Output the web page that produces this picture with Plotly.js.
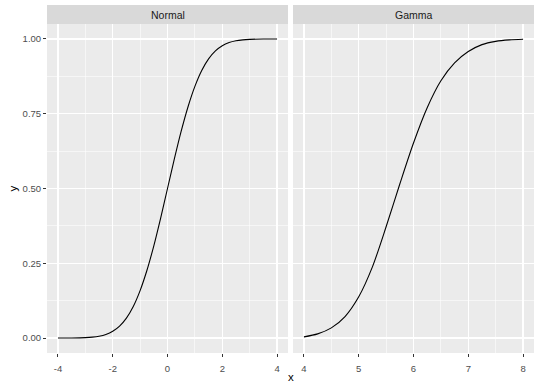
<!DOCTYPE html>
<html>
<head>
<meta charset="utf-8">
<script src="https://cdn.plot.ly/plotly-3.0.1.min.js"></script>
<style>html,body{margin:0;padding:0;background:#fff;}</style>
</head>
<body>
<div id="chart" style="width:540px;height:386px;"></div>
<script>
// Panel names
const panels = ["Normal", "Gamma"];

// Normal panel values
const normalX = [-4, -3.5, -3, -2.75, -2.5, -2.25, -2, -1.75, -1.5, -1.25, -1, -0.75, -0.5, -0.25, 0,
                 0.25, 0.5, 0.75, 1, 1.25, 1.5, 1.75, 2, 2.25, 2.5, 2.75, 3, 3.5, 4];
const normalY = [0.0000, 0.0002, 0.0013, 0.003, 0.0062, 0.0122, 0.0228, 0.0401, 0.0668, 0.1056, 0.1587, 0.2266, 0.3085, 0.4013, 0.5,
                 0.5987, 0.6915, 0.7734, 0.8413, 0.8944, 0.9332, 0.9599, 0.9772, 0.9878, 0.9938, 0.997, 0.9987, 0.9998, 1.0];

// Gamma panel values
const gammaX = [4.0, 4.25, 4.5, 4.75, 5.0, 5.25, 5.5, 5.75, 6.0, 6.25, 6.5, 6.75, 7.0, 7.25, 7.5, 7.75, 8.0];
const gammaY = [0.004, 0.014, 0.034, 0.072, 0.138, 0.238, 0.372, 0.515, 0.652, 0.77, 0.86, 0.92, 0.958, 0.981, 0.992, 0.997, 0.999];

// Tick labels
const yTickVals = [0, 0.25, 0.5, 0.75, 1];
const yTickText = ["0.00", "0.25", "0.50", "0.75", "1.00"];
const x1TickVals = [-4, -2, 0, 2, 4];
const x2TickVals = [4, 5, 6, 7, 8];

const lineStyle = {color: "#000000", width: 1.1, shape: "spline", smoothing: 0.8};

const traces = [
  {x: normalX, y: normalY, type: "scatter", mode: "lines", line: lineStyle, xaxis: "x", yaxis: "y", hoverinfo: "skip"},
  {x: gammaX, y: gammaY, type: "scatter", mode: "lines", line: lineStyle, xaxis: "x2", yaxis: "y2", hoverinfo: "skip"}
];

const tickFont = {family: "Liberation Sans, Arial, sans-serif", size: 9.5, color: "#4D4D4D"};

const xCommon = {
  showgrid: true, gridcolor: "#FFFFFF", gridwidth: 1.1,
  zeroline: false, showline: false,
  ticks: "outside", ticklen: 3, tickwidth: 1, tickcolor: "#333333",
  tickfont: tickFont, ticklabelstandoff: 4
};

const L = 47, R = 6, T = 24, B = 33;
const W = 540, H = 386;
const pw = W - L - R, ph = H - T - B;
const d1 = [0, (288 - L) / pw];
const d2 = [(293 - L) / pw, 1];
const stripTop = 1 + 19 / ph;

const layout = {
  width: W, height: H,
  margin: {l: L, r: R, t: T, b: B, pad: 0},
  paper_bgcolor: "#FFFFFF",
  plot_bgcolor: "#EBEBEB",
  showlegend: false,
  font: {family: "Liberation Sans, Arial, sans-serif"},
  xaxis: Object.assign({}, xCommon, {
    domain: d1, range: [-4.4, 4.4], tickvals: x1TickVals, ticktext: x1TickVals.map(String),
    minor: {tickvals: [-3, -1, 1, 3], showgrid: true, gridcolor: "#FFFFFF", gridwidth: 0.55, ticks: ""},
    anchor: "y"
  }),
  xaxis2: Object.assign({}, xCommon, {
    domain: d2, range: [3.8, 8.2], tickvals: x2TickVals, ticktext: x2TickVals.map(String),
    minor: {tickvals: [4.5, 5.5, 6.5, 7.5], showgrid: true, gridcolor: "#FFFFFF", gridwidth: 0.55, ticks: ""},
    anchor: "y2"
  }),
  yaxis: {
    domain: [0, 1], range: [-0.05, 1.05], tickvals: yTickVals, ticktext: yTickText,
    showgrid: true, gridcolor: "#FFFFFF", gridwidth: 1.1, zeroline: false, showline: false,
    ticks: "outside", ticklen: 3, tickwidth: 1, tickcolor: "#333333", tickfont: tickFont,
    minor: {tickvals: [0.125, 0.375, 0.625, 0.875], showgrid: true, gridcolor: "#FFFFFF", gridwidth: 0.55, ticks: ""},
    anchor: "x"
  },
  yaxis2: {
    domain: [0, 1], range: [-0.05, 1.05], tickvals: yTickVals, matches: "y",
    showgrid: true, gridcolor: "#FFFFFF", gridwidth: 1.1, zeroline: false, showline: false,
    showticklabels: false, ticks: "",
    minor: {tickvals: [0.125, 0.375, 0.625, 0.875], showgrid: true, gridcolor: "#FFFFFF", gridwidth: 0.55, ticks: ""},
    anchor: "x2"
  },
  shapes: [
    {type: "rect", xref: "paper", yref: "paper", x0: d1[0], x1: d1[1], y0: 1, y1: stripTop, fillcolor: "#D9D9D9", line: {width: 0}, layer: "below"},
    {type: "rect", xref: "paper", yref: "paper", x0: d2[0], x1: d2[1], y0: 1, y1: stripTop, fillcolor: "#D9D9D9", line: {width: 0}, layer: "below"}
  ],
  annotations: [
    {text: panels[0], xref: "paper", yref: "paper", x: (d1[0] + d1[1]) / 2, y: (1 + stripTop) / 2, xanchor: "center", yanchor: "middle", showarrow: false,
     font: {size: 10.5, color: "#1A1A1A"}},
    {text: panels[1], xref: "paper", yref: "paper", x: (d2[0] + d2[1]) / 2, y: (1 + stripTop) / 2, xanchor: "center", yanchor: "middle", showarrow: false,
     font: {size: 10.5, color: "#1A1A1A"}},
    {text: "x", xref: "paper", yref: "paper", x: 0.5, y: -(377 - (T + ph)) / ph, xanchor: "center", yanchor: "middle", showarrow: false,
     font: {size: 11.5, color: "#000000"}},
    {text: "y", xref: "paper", yref: "paper", x: (12 - L) / pw, y: 0.5, xanchor: "center", yanchor: "middle", showarrow: false, textangle: -90,
     font: {size: 11.5, color: "#000000"}}
  ]
};

Plotly.newPlot("chart", traces, layout, {displayModeBar: false, staticPlot: true});
</script>
</body>
</html>
